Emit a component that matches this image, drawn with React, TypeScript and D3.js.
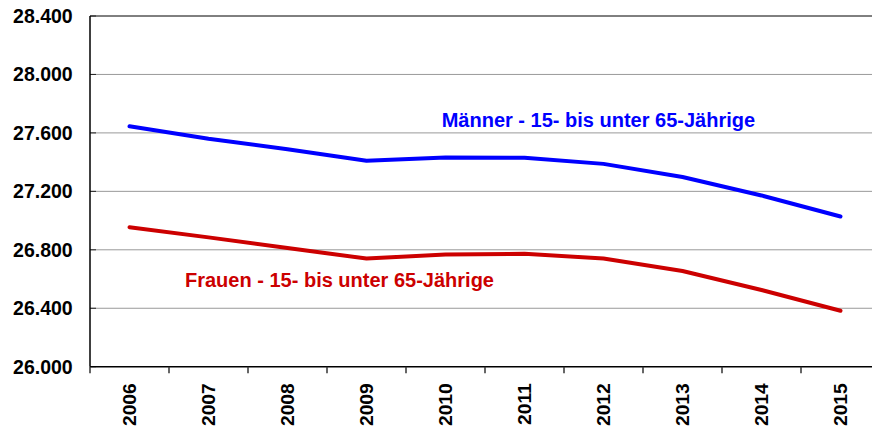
import React from "react";
import * as d3 from "d3";

const years = ["2006", "2007", "2008", "2009", "2010", "2011", "2012", "2013", "2014", "2015"];
const maenner = [27645, 27560, 27488, 27410, 27432, 27430, 27388, 27298, 27172, 27028];
const frauen = [26955, 26885, 26812, 26740, 26768, 26773, 26740, 26655, 26525, 26383];
const yTicks = [26000, 26400, 26800, 27200, 27600, 28000, 28400];
const seriesLabels = ["Männer - 15- bis unter 65-Jährige", "Frauen - 15- bis unter 65-Jährige"];

const W = 872;
const H = 429;
const left = 90;
const right = 880;
const top = 16;
const bottom = 366.7;
const FONT = "'Liberation Sans', Arial, sans-serif";

const de = d3.formatLocale({ decimal: ",", thousands: ".", grouping: [3], currency: ["", "€"] });
const fmt = de.format(",");

export default function App() {
  const x = d3.scaleBand<string>().domain(years).range([left, right]).padding(0);
  const y = d3.scaleLinear().domain([26000, 28400]).range([bottom, top]);
  const cx = (yr: string) => (x(yr) as number) + x.bandwidth() / 2;
  const line = d3
    .line<number>()
    .x((_, i) => cx(years[i]))
    .y((d) => y(d));

  const boundaries = years.map((yr) => x(yr) as number).concat([right]);

  return (
    <svg
      width={W}
      height={H}
      style={{ position: "absolute", left: 0, top: 0, background: "#fff" }}
      fontFamily={FONT}
    >
      {/* gridlines */}
      {yTicks
        .filter((t) => t !== 26000 && t !== 28400)
        .map((t) => (
          <line key={t} x1={left} x2={right} y1={y(t)} y2={y(t)} stroke="#999" strokeWidth={1} />
        ))}
      {/* top border */}
      <line x1={left} x2={right} y1={y(28400)} y2={y(28400)} stroke="#000" strokeWidth={1} />
      {/* y ticks inward */}
      {yTicks.map((t) => (
        <line key={"yt" + t} x1={left} x2={left + 6} y1={y(t)} y2={y(t)} stroke="#222" strokeWidth={1} />
      ))}
      {/* axes */}
      <line x1={left} x2={left} y1={top} y2={bottom} stroke="#000" strokeWidth={1.5} />
      <line x1={left} x2={right} y1={bottom} y2={bottom} stroke="#000" strokeWidth={1.5} />
      {boundaries.map((b, i) => (
        <line key={"xt" + i} x1={b} x2={b} y1={bottom} y2={bottom + 6.5} stroke="#333" strokeWidth={1.5} />
      ))}
      {/* y labels */}
      {yTicks.map((t) => (
        <text
          key={"yl" + t}
          x={72.7}
          y={y(t) + 7}
          textAnchor="end"
          fontSize={19.5}
          fontWeight="bold"
          fill="#000"
        >
          {fmt(t)}
        </text>
      ))}
      {/* x labels */}
      {years.map((yr) => (
        <text
          key={"xl" + yr}
          transform={`translate(${cx(yr) + 6.8},${383.3}) rotate(-90)`}
          textAnchor="end"
          fontSize={19.2}
          fontWeight="bold"
          fill="#000"
        >
          {yr}
        </text>
      ))}
      {/* lines */}
      <path d={line(maenner) || ""} fill="none" stroke="#0000ff" strokeWidth={4} strokeLinecap="round" strokeLinejoin="round" />
      <path d={line(frauen) || ""} fill="none" stroke="#cc0000" strokeWidth={4} strokeLinecap="round" strokeLinejoin="round" />
      {/* series labels */}
      <text x={441.7} y={126.7} fontSize={20} fontWeight="bold" fill="#0000ff">
        {seriesLabels[0]}
      </text>
      <text x={185} y={287} fontSize={20} fontWeight="bold" fill="#cc0000">
        {seriesLabels[1]}
      </text>
    </svg>
  );
}
